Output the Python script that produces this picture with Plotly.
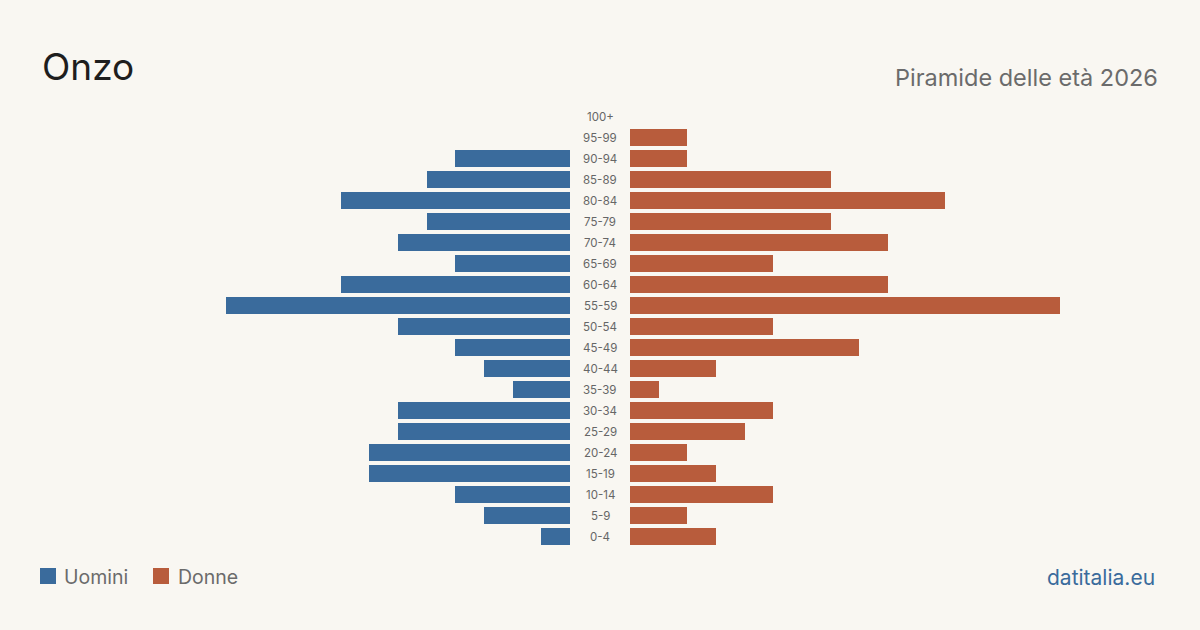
import plotly.graph_objects as go

age_groups = ["0-4","5-9","10-14","15-19","20-24","25-29","30-34","35-39","40-44","45-49",
              "50-54","55-59","60-64","65-69","70-74","75-79","80-84","85-89","90-94","95-99","100+"]
men   = [1,3,4,7,7,6,6,2,3,4,6,12,8,4,6,5,8,5,4,0,0]
women = [3,2,5,3,2,4,5,1,3,8,5,15,9,5,9,7,11,7,2,2,0]

BLUE = "#3a6b9c"
ORANGE = "#b85c3c"
BG = "#f9f7f2"

ypos = list(range(len(age_groups)))
fig = go.Figure()
fig.add_trace(go.Bar(y=ypos, x=men, orientation="h", marker=dict(color=BLUE, line=dict(width=0)), width=0.81,
                     xaxis="x", yaxis="y", showlegend=False, hoverinfo="skip"))
fig.add_trace(go.Bar(y=ypos, x=women, orientation="h", marker=dict(color=ORANGE, line=dict(width=0)), width=0.81,
                     xaxis="x2", yaxis="y", showlegend=False, hoverinfo="skip"))

R = 570 / 28.67
for i, lab in enumerate(age_groups):
    fig.add_annotation(x=0.5, xref="paper", y=i, yref="y", text=lab, showarrow=False,
                       font=dict(family="Inter", size=11.5, color="#666"), xanchor="center", yanchor="middle")

fig.add_annotation(x=40/1200, y=1-67/630, xref="paper", yref="paper", text="Onzo", showarrow=False,
                   xanchor="left", yanchor="middle", font=dict(family="Inter", size=37, color="#1e1e1e"))
fig.add_annotation(x=1160/1200, y=1-77/630, xref="paper", yref="paper", text="Piramide delle età 2026",
                   showarrow=False, xanchor="right", yanchor="middle",
                   font=dict(family="Inter", size=23.5, color="#6b6b6b"))
fig.add_annotation(x=62/1200, y=1-577/630, xref="paper", yref="paper", text="Uomini", showarrow=False,
                   xanchor="left", yanchor="middle", font=dict(family="Inter", size=19.5, color="#6b6b6b"))
fig.add_annotation(x=176/1200, y=1-577/630, xref="paper", yref="paper", text="Donne", showarrow=False,
                   xanchor="left", yanchor="middle", font=dict(family="Inter", size=19.5, color="#6b6b6b"))
fig.add_annotation(x=1157/1200, y=1-577/630, xref="paper", yref="paper", text="datitalia.eu", showarrow=False,
                   xanchor="right", yanchor="middle", font=dict(family="Inter", size=21, color=BLUE))
fig.add_shape(type="rect", xref="paper", yref="paper", x0=40/1200, x1=56/1200, y0=1-584/630, y1=1-568/630,
              fillcolor=BLUE, line_width=0)
fig.add_shape(type="rect", xref="paper", yref="paper", x0=153/1200, x1=169/1200, y0=1-584/630, y1=1-568/630,
              fillcolor=ORANGE, line_width=0)

fig.update_layout(
    width=1200, height=630, margin=dict(l=0, r=0, t=0, b=0),
    paper_bgcolor=BG, plot_bgcolor=BG, bargap=0,
    xaxis=dict(domain=[0, 570/1200], range=[R, 0], visible=False, fixedrange=True),
    xaxis2=dict(domain=[630/1200, 1], range=[0, R], visible=False, fixedrange=True),
    yaxis=dict(range=[-(630-536.5)/21, 20 + 116.5/21], visible=False, fixedrange=True),
)
fig.write_html("out.html")
